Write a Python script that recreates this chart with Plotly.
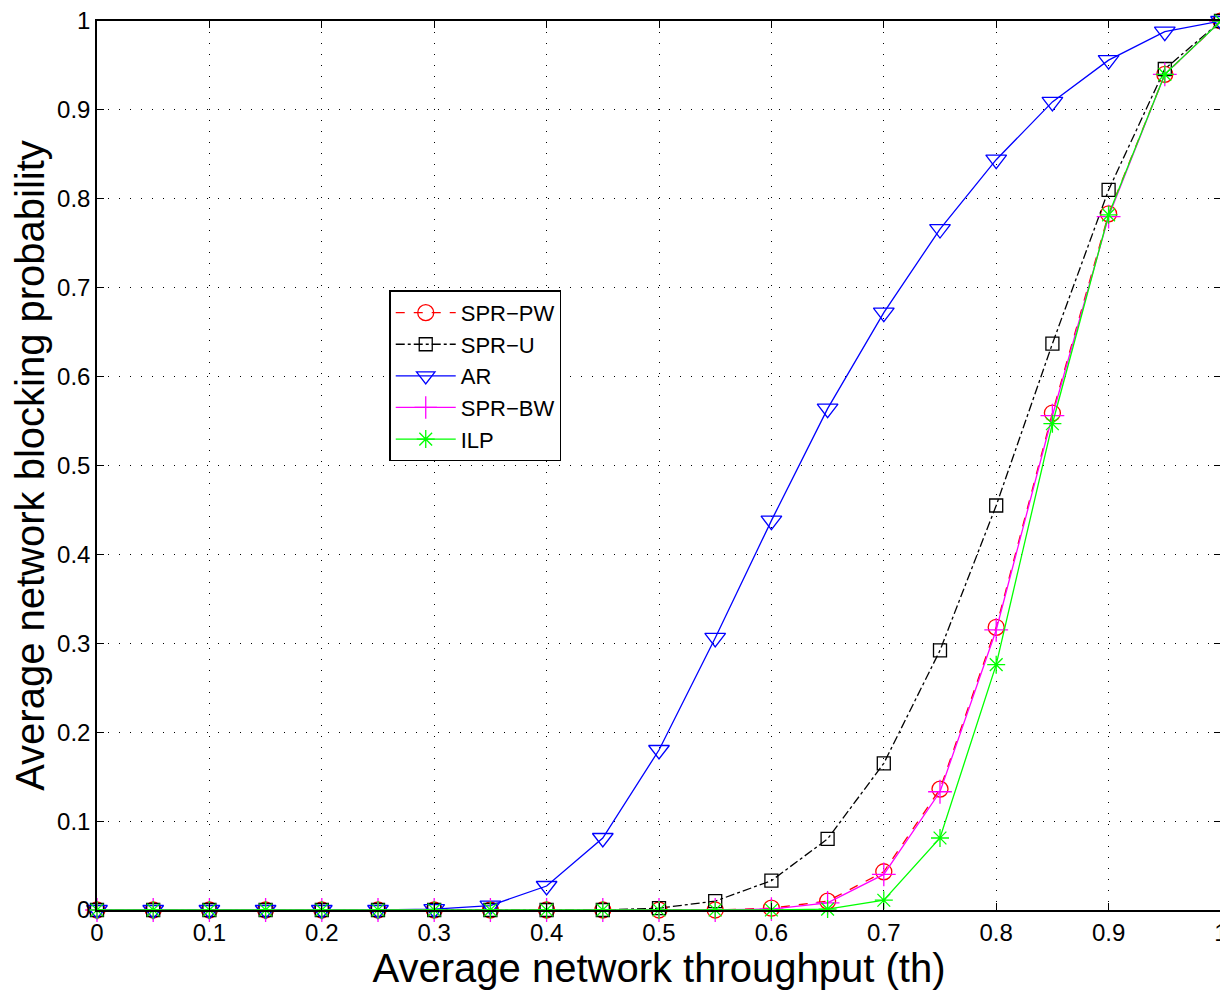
import plotly.graph_objects as go

x = [0, 0.05, 0.1, 0.15, 0.2, 0.25, 0.3, 0.35, 0.4, 0.45, 0.5, 0.55, 0.6, 0.65, 0.7, 0.75, 0.8, 0.85, 0.9, 0.95, 1.0]

spr_pw = [0, 0, 0, 0, 0, 0, 0, 0, 0, 0, 0, 0, 0.002, 0.010, 0.043, 0.136, 0.318, 0.559, 0.783, 0.940, 1.0]
spr_u = [0, 0, 0, 0, 0, 0, 0, 0, 0, 0, 0.002, 0.010, 0.033, 0.080, 0.165, 0.292, 0.455, 0.637, 0.810, 0.946, 1.0]
ar = [0, 0, 0, 0, 0, 0, 0.001, 0.005, 0.027, 0.081, 0.180, 0.306, 0.438, 0.564, 0.672, 0.766, 0.844, 0.909, 0.956, 0.988, 1.0]
spr_bw = [0, 0, 0, 0, 0, 0, 0, 0, 0, 0, 0, 0, 0.001, 0.008, 0.040, 0.133, 0.315, 0.556, 0.780, 0.940, 1.0]
ilp = [0, 0, 0, 0, 0, 0, 0, 0, 0, 0, 0, 0, 0, 0.001, 0.011, 0.081, 0.276, 0.547, 0.782, 0.940, 1.0]

tick_vals = [0, 0.1, 0.2, 0.3, 0.4, 0.5, 0.6, 0.7, 0.8, 0.9, 1]
tick_text = ["0", "0.1", "0.2", "0.3", "0.4", "0.5", "0.6", "0.7", "0.8", "0.9", "1"]

fig = go.Figure()

def add(name, y, color, dash, symbol, size):
    fig.add_trace(go.Scatter(
        x=x, y=y, name=name, mode="lines+markers",
        line=dict(color=color, width=1.3, dash=dash),
        marker=dict(symbol=symbol, size=size, color=color,
                    line=dict(color=color, width=1.3)),
        cliponaxis=False,
    ))

add("SPR\u2212PW", spr_pw, "#ff0000", "dash", "circle-open", 16)
add("SPR\u2212U", spr_u, "#000000", "dashdot", "square-open", 13)
add("AR", ar, "#0000ff", "solid", "triangle-down-open", 18)
add("SPR\u2212BW", spr_bw, "#ff00ff", "solid", "cross-thin-open", 17)
add("ILP", ilp, "#00ff00", "solid", "asterisk-open", 15)

axis_common = dict(
    range=[0, 1], tickvals=tick_vals, ticktext=tick_text,
    showline=True, linecolor="black", linewidth=1.5, mirror="allticks",
    ticks="inside", ticklen=7, tickcolor="black", tickwidth=1,
    showgrid=True, gridcolor="black", gridwidth=1, griddash="1px,10px",
    zeroline=False, tickfont=dict(size=24, color="black"),
    automargin=False, ticklabeloverflow="allow",
)

fig.update_xaxes(**axis_common,
                 title=dict(text="Average network throughput (th)", font=dict(size=40, color="black"), standoff=2))
fig.update_yaxes(**axis_common,
                 title=dict(text="Average network blocking probability", font=dict(size=40, color="black"), standoff=8))

# page body has an 8px margin, so the figure is sized/offset to compensate
fig.update_layout(
    width=1220, height=985,
    margin=dict(l=89, r=7, t=13, b=83),
    paper_bgcolor="white", plot_bgcolor="white",
    font=dict(family="Liberation Sans, Arial, sans-serif", color="black"),
    legend=dict(x=0.26, y=0.697, xanchor="left", yanchor="top",
                bgcolor="white", bordercolor="black", borderwidth=1.5,
                font=dict(size=22), itemwidth=60, tracegroupgap=0),
    showlegend=True,
)

fig.write_html("out.html")
